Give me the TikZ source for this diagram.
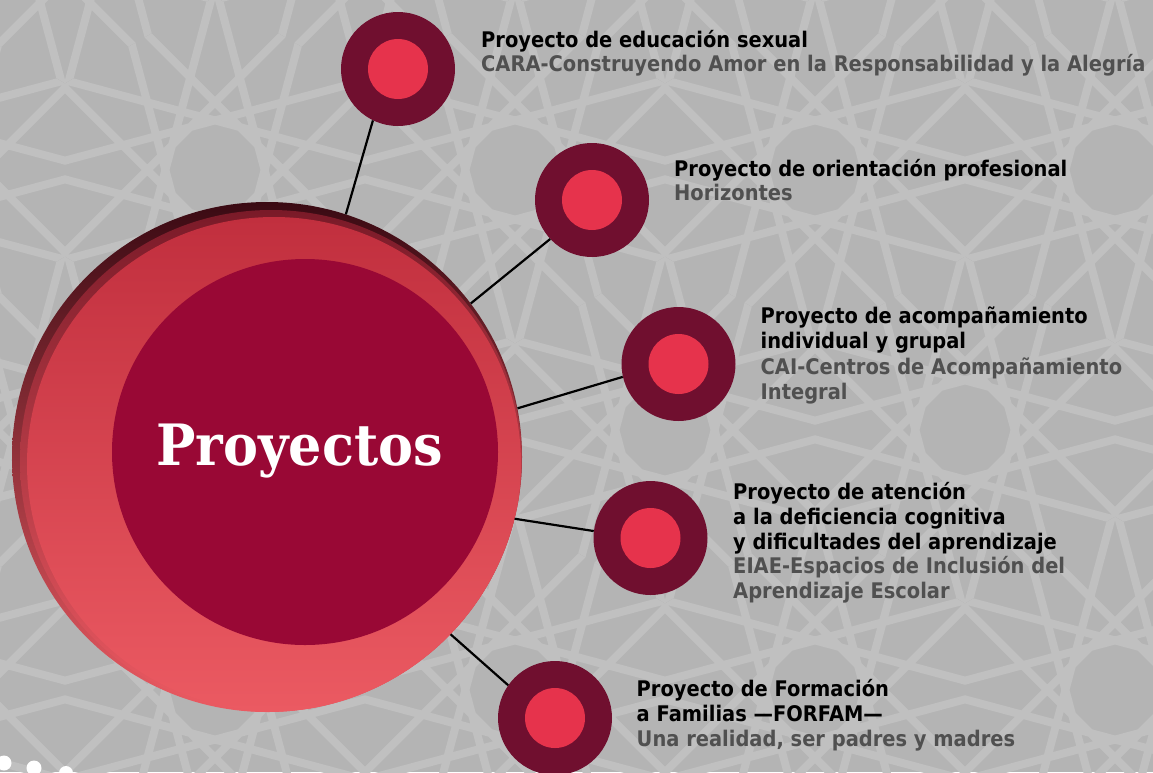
\documentclass[tikz,border=0pt]{standalone}
\usepackage{fontspec}
\usetikzlibrary{calc}
\newfontfamily\labelfont{DejaVu Sans}[FakeStretch=0.905]
\newfontfamily\titlefont{DejaVu Serif}[FakeStretch=0.92]
\definecolor{bg}{HTML}{B4B4B4}
\definecolor{patline}{HTML}{C0C0C0}
\definecolor{satdark}{HTML}{700F2F}
\definecolor{satpink}{HTML}{E6334C}
\definecolor{innerred}{HTML}{990835}
\definecolor{rimdark}{HTML}{3A0A13}
\definecolor{rimmid}{HTML}{7A1A28}
\definecolor{bigtop}{HTML}{C12F3E}
\definecolor{bigmid}{HTML}{E4475A}
\definecolor{bigbot}{HTML}{EB5A62}
\definecolor{subgray}{HTML}{505050}
\newcommand\lblA[1]{\hbox{\color{black}#1}}
\newcommand\lblB[1]{\hbox{\color{subgray}#1}}
\tikzset{
  pat/.style={draw=patline, line width=8pt, line join=miter},
  sat/.style={circle, fill=satdark, minimum size=114pt, inner sep=0pt,
    path picture={\fill[satpink] (path picture bounding box.center) circle (30pt);}},
  link/.style={draw=black, line width=2.2pt},
  lbl/.style={anchor=base west, inner sep=0pt, font=\labelfont\bfseries\fontsize{21.5}{25}\selectfont},
}
\begin{document}
\begin{tikzpicture}[x=1pt,y=-1pt]
\useasboundingbox (0,0) rectangle (1153,772);
\fill[bg] (0,0) rectangle (1153,772);
% background lattice pattern
\begin{scope}
\clip (0,0) rectangle (1153,772);
\foreach \cx/\cy in {1115/170,815/170,515/170,215/170,-85/170,
  1265/-90,965/-90,665/-90,365/-90,65/-90,
  1265/430,965/430,665/430,365/430,65/430,
  1115/690,815/690,515/690,215/690,-85/690}{
  \begin{scope}[shift={(\cx,\cy)}]
    \clip (30:173.2) -- (90:173.2) -- (150:173.2) -- (210:173.2) -- (270:173.2) -- (330:173.2) -- cycle;
    \draw[pat] (0:185) \foreach \k in {1,...,11}{ -- ({\k*150}:185) } -- cycle;
  \end{scope}
}
\end{scope}
% big circle
\node[circle, minimum size=510pt, inner sep=0pt] (big) at (267,457) {};
\shade[top color=rimdark, middle color=rimmid, bottom color=bigbot] (big.center) circle (255);
\begin{scope}
\clip (big.center) circle (255);
\shade[top color=rimmid, middle color=bigtop, bottom color=bigbot] ($(big.center)+(4,4)$) circle (251);
\shade[top color=bigtop, middle color=bigmid, bottom color=bigbot] ($(big.center)+(7,7)$) circle (247);
\end{scope}
\node[circle, fill=innerred, minimum size=386pt, inner sep=0pt] (inner) at (305,452) {};
\node[anchor=base west, text=white, inner sep=0pt, font=\titlefont\bfseries\fontsize{57}{60}\selectfont] (title) at (156,465) {Proyectos};
% satellites
\node[sat] (s1) at (398,69) {};
\node[sat] (s2) at (592,200) {};
\node[sat] (s3) at (678.5,364) {};
\node[sat] (s4) at (650.5,538) {};
\node[sat] (s5) at (555,718) {};
% connectors
\draw[link] (big.72.8) -- (s1.244);
\draw[link] (big.37.3) -- (s2.223.6);
\draw[link] (big.11.1) -- (s3.193.5);
\draw[link] (big.-14) -- (s4.173);
\draw[link] (big.-44.8) -- (s5.145.7);
% labels
\node[lbl] (t1) at (481,47) {\vtop{\baselineskip=24.5pt
  \lblA{Proyecto de educación sexual}
  \lblB{CARA-Construyendo Amor en la Responsabilidad y la Alegría}}};
\node[lbl] (t2) at (674,176) {\vtop{\baselineskip=24.7pt
  \lblA{Proyecto de orientación profesional}
  \lblB{Horizontes}}};
\node[lbl] (t3) at (760.5,323) {\vtop{\baselineskip=25.5pt
  \lblA{Proyecto de acompañamiento}
  \lblA{individual y grupal}
  \lblB{CAI-Centros de Acompañamiento}
  \lblB{Integral}}};
\node[lbl] (t4) at (733,499.5) {\vtop{\baselineskip=24.75pt
  \lblA{Proyecto de atención}
  \lblA{a la deficiencia cognitiva}
  \lblA{y dificultades del aprendizaje}
  \lblB{EIAE-Espacios de Inclusión del}
  \lblB{Aprendizaje Escolar}}};
\node[lbl] (t5) at (636.5,696) {\vtop{\baselineskip=25pt
  \lblA{Proyecto de Formación}
  \lblA{a Familias —FORFAM—}
  \lblB{Una realidad, ser padres y madres}}};
% bottom-left dots
\fill[white] (4,763) circle (7.5);
\fill[white] (34,768) circle (7.5);
\fill[white] (66,773) circle (7);
\end{tikzpicture}
\end{document}
